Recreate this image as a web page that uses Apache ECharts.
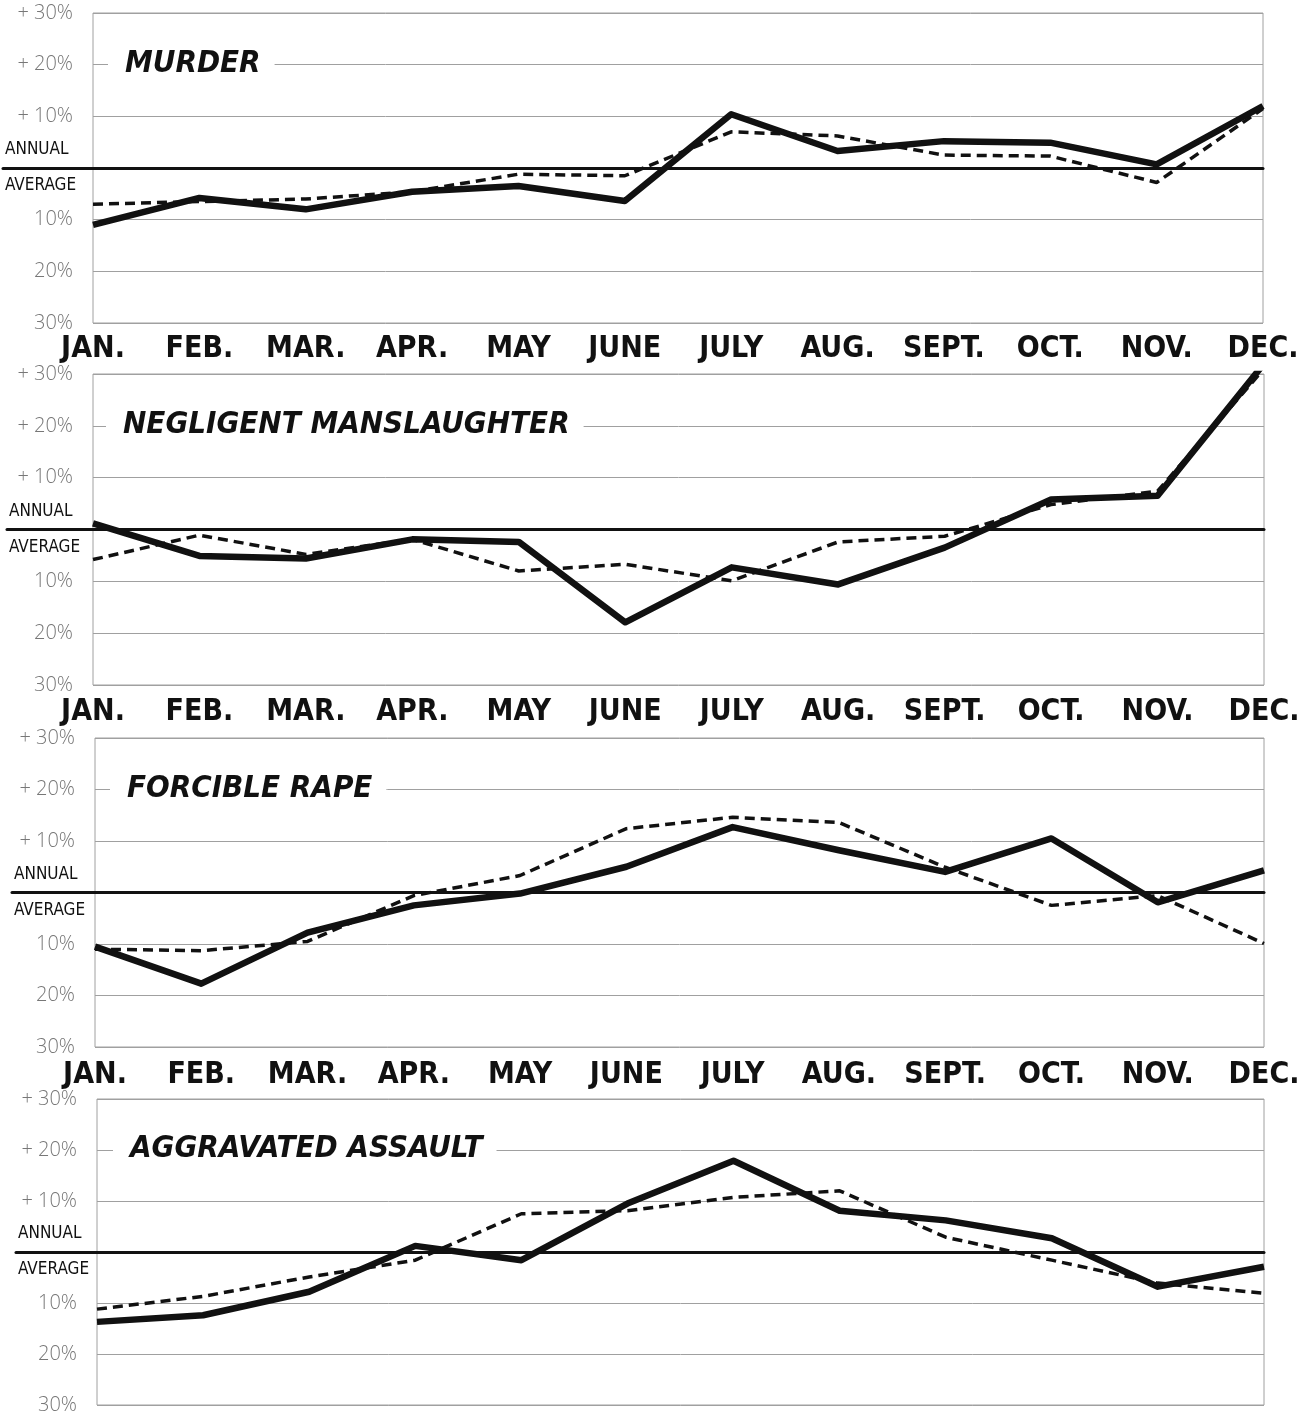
<!DOCTYPE html>
<html>
<head>
<meta charset="utf-8">
<script src="https://cdn.jsdelivr.net/npm/echarts@6/dist/echarts.min.js"></script>
<style>
html,body{margin:0;padding:0;background:#ffffff;overflow:hidden;}
#chart{width:1297px;height:1416px;}
</style>
</head>
<body>
<div id="chart"></div>
<script>
// ---- data ----
const months = ["JAN.", "FEB.", "MAR.", "APR.", "MAY", "JUNE", "JULY", "AUG.", "SEPT.", "OCT.", "NOV.", "DEC."];
const panelTitles = ["MURDER", "NEGLIGENT MANSLAUGHTER", "FORCIBLE RAPE", "AGGRAVATED ASSAULT"];
const tickValues = [-30, -20, -10, 0, 10, 20, 30];
const tickLabels = ["30%", "20%", "10%", "", "+ 10%", "+ 20%", "+ 30%"];
const zeroLabel = ["ANNUAL", "AVERAGE"];

const murderSolid = [-11, -5.8, -8, -4.6, -3.5, -6.4, 10.4, 3.3, 5.2, 4.9, 0.7, 12];
const murderDashed = [-7, -6.5, -6, -4.6, -1.2, -1.5, 7, 6.2, 2.5, 2.3, -2.8, 11.5];

const manslaughterSolid = [1.2, -5.1, -5.6, -1.9, -2.4, -17.9, -7.3, -10.6, -3.5, 5.8, 6.5, 32];
const manslaughterDashed = [-5.8, -1.1, -4.8, -1.9, -8, -6.7, -9.9, -2.4, -1.3, 4.8, 7.4, 31];

const rapeSolid = [-10.5, -17.7, -7.8, -2.5, -0.2, 5, 12.7, 8.2, 4, 10.5, -1.9, 4.3];
const rapeDashed = [-11, -11.3, -9.5, -0.6, 3.3, 12.4, 14.6, 13.6, 4.9, -2.5, -0.6, -9.9];

const assaultSolid = [-13.7, -12.4, -7.8, 1.2, -1.6, 9.5, 17.9, 8.1, 6.2, 2.7, -6.8, -2.9];
const assaultDashed = [-11.2, -8.7, -4.9, -1.6, 7.5, 8.1, 10.7, 12, 2.9, -1.6, -6.1, -8.1];

const solidSeries = [murderSolid, manslaughterSolid, rapeSolid, assaultSolid];
const dashedSeries = [murderDashed, manslaughterDashed, rapeDashed, assaultDashed];

// ---- layout (styles/positions) ----
const panels = [
  {left: 93, right: 34, top: 13,   height: 310, zeroLeft: 3,  titleLeft: 108, showX: true,  xMargin: 11},
  {left: 93, right: 33, top: 374,  height: 311, zeroLeft: 7,  titleLeft: 106, showX: true,  xMargin: 12},
  {left: 95, right: 33, top: 738,  height: 309, zeroLeft: 12, titleLeft: 110, showX: true,  xMargin: 13},
  {left: 97, right: 33, top: 1099, height: 306, zeroLeft: 16, titleLeft: 113, showX: false, xMargin: 12}
];

const COND = "'DejaVu Sans Condensed', 'DejaVu Sans', sans-serif";
const LIGHT = "'Open Sans', 'DejaVu Sans', sans-serif";
const INK = '#111111';
const GRIDC = '#a0a0a0';
const TITLE_SIZE = 31;

function tickFmt(v) {
  const i = tickValues.indexOf(v);
  return i >= 0 ? tickLabels[i] : '';
}

const grid = [], xAxis = [], yAxis = [], series = [], title = [];
panels.forEach((p, k) => {
  grid.push({left: p.left, right: p.right, top: p.top, height: p.height,
    outerBoundsMode: 'none', containLabel: false,
    show: true, borderColor: GRIDC, borderWidth: 1, backgroundColor: 'transparent'});
  grid.push({left: p.zeroLeft, right: p.right, top: p.top, height: p.height,
    outerBoundsMode: 'none', containLabel: false, show: false});

  const gi = k * 2;
  xAxis.push({
    gridIndex: gi, type: 'category', data: months, boundaryGap: false,
    axisLine: {show: false}, axisTick: {show: false}, splitLine: {show: false},
    axisLabel: {show: p.showX, interval: 0, margin: p.xMargin, color: INK,
      fontFamily: COND, fontWeight: 'bold', fontSize: 30, hideOverlap: false}
  });
  yAxis.push({
    gridIndex: gi, type: 'value', min: -30, max: 30, interval: 10,
    axisLine: {show: false}, axisTick: {show: false},
    splitLine: {show: true, lineStyle: {color: GRIDC, width: 1}},
    axisLabel: {margin: 20, color: '#777777', fontFamily: LIGHT, fontWeight: 300, fontSize: 20,
      formatter: tickFmt}
  });
  xAxis.push({
    gridIndex: gi + 1, type: 'value', min: 0, max: 1, show: true,
    axisLine: {show: true, onZero: true, lineStyle: {color: INK, width: 3}},
    axisTick: {show: false}, axisLabel: {show: false}, splitLine: {show: false}
  });
  yAxis.push({
    gridIndex: gi + 1, type: 'value', min: -30, max: 30, interval: 30,
    axisLine: {show: false}, axisTick: {show: false}, splitLine: {show: false},
    axisLabel: {inside: true, margin: 2, color: INK,
      formatter: v => v === 0 ? '{a|' + zeroLabel[0] + '}\n{a|' + zeroLabel[1] + '}' : '',
      rich: {a: {fontFamily: COND, fontSize: 17, lineHeight: 36, color: INK, align: 'left'}}}
  });

  series.push({
    type: 'line', xAxisIndex: gi, yAxisIndex: gi, data: solidSeries[k],
    symbol: 'none', z: 3,
    lineStyle: {color: INK, width: 6.5, join: 'round'}
  });
  series.push({
    type: 'line', xAxisIndex: gi, yAxisIndex: gi, data: dashedSeries[k],
    symbol: 'none', z: 4,
    lineStyle: {color: INK, width: 3.5, type: [10, 6]}
  });

  const centerY = p.top + p.height / 6;
  title.push({
    text: panelTitles[k], left: p.titleLeft,
    top: centerY - 3 - TITLE_SIZE / 2 - 1,
    backgroundColor: '#ffffff', padding: [3, 14, 3, 17],
    textStyle: {fontFamily: COND, fontWeight: 'bold', fontStyle: 'italic', fontSize: TITLE_SIZE,
      lineHeight: TITLE_SIZE, color: INK}
  });
});

const chart = echarts.init(document.getElementById('chart'), null, {renderer: 'canvas'});
chart.setOption({
  backgroundColor: '#ffffff',
  animation: false,
  title: title, grid: grid, xAxis: xAxis, yAxis: yAxis, series: series
});
</script>
</body>
</html>
